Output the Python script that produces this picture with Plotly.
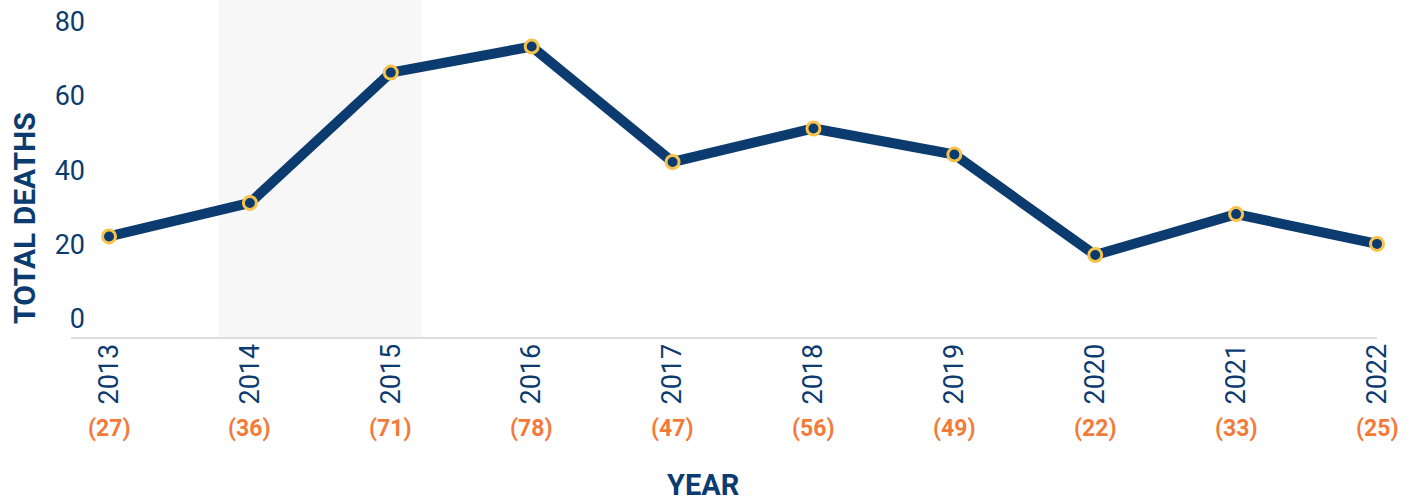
import plotly.graph_objects as go

years = [2013, 2014, 2015, 2016, 2017, 2018, 2019, 2020, 2021, 2022]
deaths = [27, 36, 71, 78, 47, 56, 49, 22, 33, 25]
year_labels = [str(y) for y in years]
count_labels = ["(%d)" % d for d in deaths]
y_ticks = [0, 20, 40, 60, 80]

NAVY = "#0b3b6f"
ORANGE = "#f47a3a"
GOLD = "#f7c34a"

fig = go.Figure()

fig.add_shape(type="rect", xref="x", yref="paper", x0=2013.78, x1=2015.22, y0=0, y1=1,
              fillcolor="#f7f7f7", line_width=0, layer="below")

fig.add_trace(go.Scatter(
    x=years, y=deaths, mode="lines+markers",
    line=dict(color=NAVY, width=10),
    marker=dict(size=13, color=NAVY, line=dict(color=GOLD, width=3)),
    cliponaxis=False, hoverinfo="x+y", showlegend=False,
))

for yr, lab in zip(years, count_labels):
    fig.add_annotation(x=yr, xref="x", y=-0.272, yref="paper", text="<b>%s</b>" % lab,
                       showarrow=False, font=dict(family="Roboto", size=23, color=ORANGE),
                       xanchor="center", yanchor="middle")

fig.add_annotation(x=0.484, xref="paper", y=-0.439, yref="paper", text="<b>YEAR</b>",
                   showarrow=False, font=dict(family="Roboto", size=29, color=NAVY),
                   xanchor="center", yanchor="middle")
fig.add_annotation(x=-0.036, xref="paper", y=0.353, yref="paper", text="<b>TOTAL DEATHS</b>",
                   textangle=-90, showarrow=False, font=dict(family="Roboto", size=30, color=NAVY),
                   xanchor="center", yanchor="middle")

fig.update_layout(
    width=1413, height=502,
    margin=dict(l=71, r=36, t=0, b=165, autoexpand=False),
    paper_bgcolor="white", plot_bgcolor="white",
    font=dict(family="Roboto", color=NAVY),
    xaxis=dict(range=[2012.73, 2022], tickmode="array", tickvals=years, ticktext=year_labels,
               tickangle=-90, tickfont=dict(size=27, color=NAVY), showgrid=False, zeroline=False,
               showline=True, linecolor="#dddddd", linewidth=2, ticks="", ticklabelstandoff=-6,
               automargin=False),
    yaxis=dict(range=[0, 90.5], tickmode="array", tickvals=y_ticks, ticktext=[str(v) for v in y_ticks],
               tickfont=dict(size=27, color=NAVY), showgrid=False, zeroline=False, showline=False,
               ticks="", ticklabelshift=-18, ticklabelstandoff=-15, automargin=False),
)

fig.write_html("out.html", post_script="document.body.style.margin='0';",
               config={"displayModeBar": False})
